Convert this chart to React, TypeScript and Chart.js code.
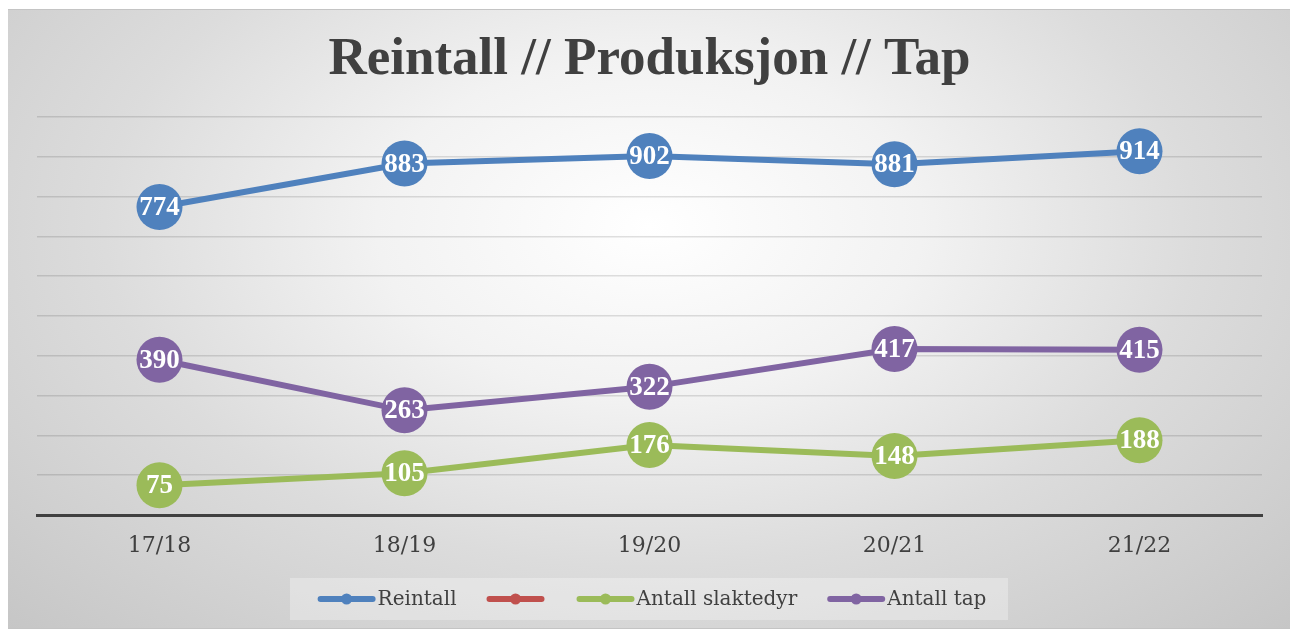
import React, { useEffect, useRef } from "react";
import { Chart, registerables } from "chart.js";

Chart.register(...registerables);

const categories = ["17/18", "18/19", "19/20", "20/21", "21/22"];
const reintall = [774, 883, 902, 881, 914];
const emptySeries: (number | null)[] = [null, null, null, null, null];
const slaktedyr = [75, 105, 176, 148, 188];
const tap = [390, 263, 322, 417, 415];
const seriesLabels = ["Reintall", "", "Antall slaktedyr", "Antall tap"];
const seriesColors = ["#4F81BD", "#C0504D", "#9BBB59", "#8064A2"];
const yMin = 0;
const yMax = 1000;
const yStep = 100;
const titleText = "Reintall // Produksjon // Tap";

const dataLabelPlugin = {
  id: "dataLabels",
  afterDatasetsDraw(chart: any) {
    const ctx = chart.ctx;
    ctx.save();
    ctx.font = "bold 27px 'Liberation Serif'";
    ctx.fillStyle = "#ffffff";
    ctx.textAlign = "center";
    ctx.textBaseline = "middle";
    chart.data.datasets.forEach((ds: any, i: number) => {
      const meta = chart.getDatasetMeta(i);
      meta.data.forEach((pt: any, j: number) => {
        const v = ds.data[j];
        if (v === null || v === undefined) return;
        ctx.fillText(String(v), pt.x, pt.y + 1);
      });
    });
    ctx.restore();
  },
};

const legendPlugin = {
  id: "customLegend",
  afterDraw(chart: any) {
    const ctx = chart.ctx;
    ctx.save();
    const boxL = 283, boxR = 1001, boxT = 568, boxB = 610;
    ctx.fillStyle = "rgba(255,255,255,0.3)";
    ctx.fillRect(boxL, boxT, boxR - boxL, boxB - boxT);
    ctx.font = "20px 'DejaVu Serif'";
    const markerW = 58, gapText = 2, gapItem = 30;
    const widths = chart.data.datasets.map((ds: any) => markerW + gapText + ctx.measureText(ds.label).width);
    const total = widths.reduce((a: number, b: number) => a + b, 0) + gapItem * (widths.length - 1);
    let x = 645 - total / 2;
    const cy = 589;
    chart.data.datasets.forEach((ds: any, i: number) => {
      ctx.strokeStyle = ds.borderColor;
      ctx.lineWidth = 6;
      ctx.lineCap = "round";
      ctx.beginPath();
      ctx.moveTo(x + 3, cy);
      ctx.lineTo(x + markerW - 3, cy);
      ctx.stroke();
      ctx.fillStyle = ds.borderColor;
      ctx.beginPath();
      ctx.arc(x + markerW / 2, cy, 5.5, 0, Math.PI * 2);
      ctx.fill();
      ctx.fillStyle = "#404040";
      ctx.textAlign = "left";
      ctx.textBaseline = "middle";
      ctx.fillText(ds.label, x + markerW + gapText, cy + 1);
      x += widths[i] + gapItem;
    });
    ctx.restore();
  },
};

export default function App() {
  const canvasRef = useRef<HTMLCanvasElement | null>(null);

  useEffect(() => {
    if (!canvasRef.current) return;
    const seriesData = [reintall, emptySeries, slaktedyr, tap];
    const chart = new Chart(canvasRef.current, {
      type: "line",
      data: {
        labels: categories,
        datasets: seriesData.map((d, i) => ({
          label: seriesLabels[i],
          data: d,
          borderColor: seriesColors[i],
          backgroundColor: seriesColors[i],
          pointBackgroundColor: seriesColors[i],
          pointBorderWidth: 0,
          pointRadius: 23,
          pointHoverRadius: 23,
          borderWidth: 6,
          tension: 0,
          fill: false,
        })),
      },
      options: {
        responsive: false,
        animation: false,
        layout: { padding: { left: 30, right: 30, top: 0, bottom: 53 } },
        plugins: {
          legend: { display: false },
          tooltip: { enabled: false },
          title: {
            display: true,
            text: titleText,
            color: "#404040",
            font: { family: "'Liberation Serif'", size: 53, weight: "bold", lineHeight: 1.2 },
            padding: { top: 19, bottom: 24.4 },
          },
        },
        scales: {
          x: {
            offset: true,
            grid: { display: false, drawTicks: false },
            border: { display: true, color: "#404040", width: 3 },
            ticks: {
              color: "#404040",
              font: { family: "'DejaVu Serif'", size: 22 },
              padding: 18,
            },
            afterFit: (s: any) => {
              s.height = 60;
            },
          },
          y: {
            min: yMin,
            max: yMax,
            ticks: { display: false, stepSize: yStep },
            grid: { color: "rgba(0,0,0,0.12)", lineWidth: 1.5, drawTicks: false },
            border: { display: false },
            afterFit: (s: any) => {
              s.width = 0;
            },
          },
        },
      },
      plugins: [dataLabelPlugin, legendPlugin],
    });
    return () => chart.destroy();
  }, []);

  return (
    <div
      style={{
        position: "relative",
        marginLeft: -2,
        marginTop: 1,
        width: 1287,
        height: 620,
        boxSizing: "border-box",
        border: "1px solid #c4c4c4",
        background:
          "radial-gradient(ellipse farthest-corner at 50% 35%, #ffffff 0%, #f2f2f2 30%, #dcdcdc 60%, #c6c6c6 100%)",
      }}
    >
      <canvas ref={canvasRef} width={1285} height={618} style={{ display: "block" }} />
    </div>
  );
}
